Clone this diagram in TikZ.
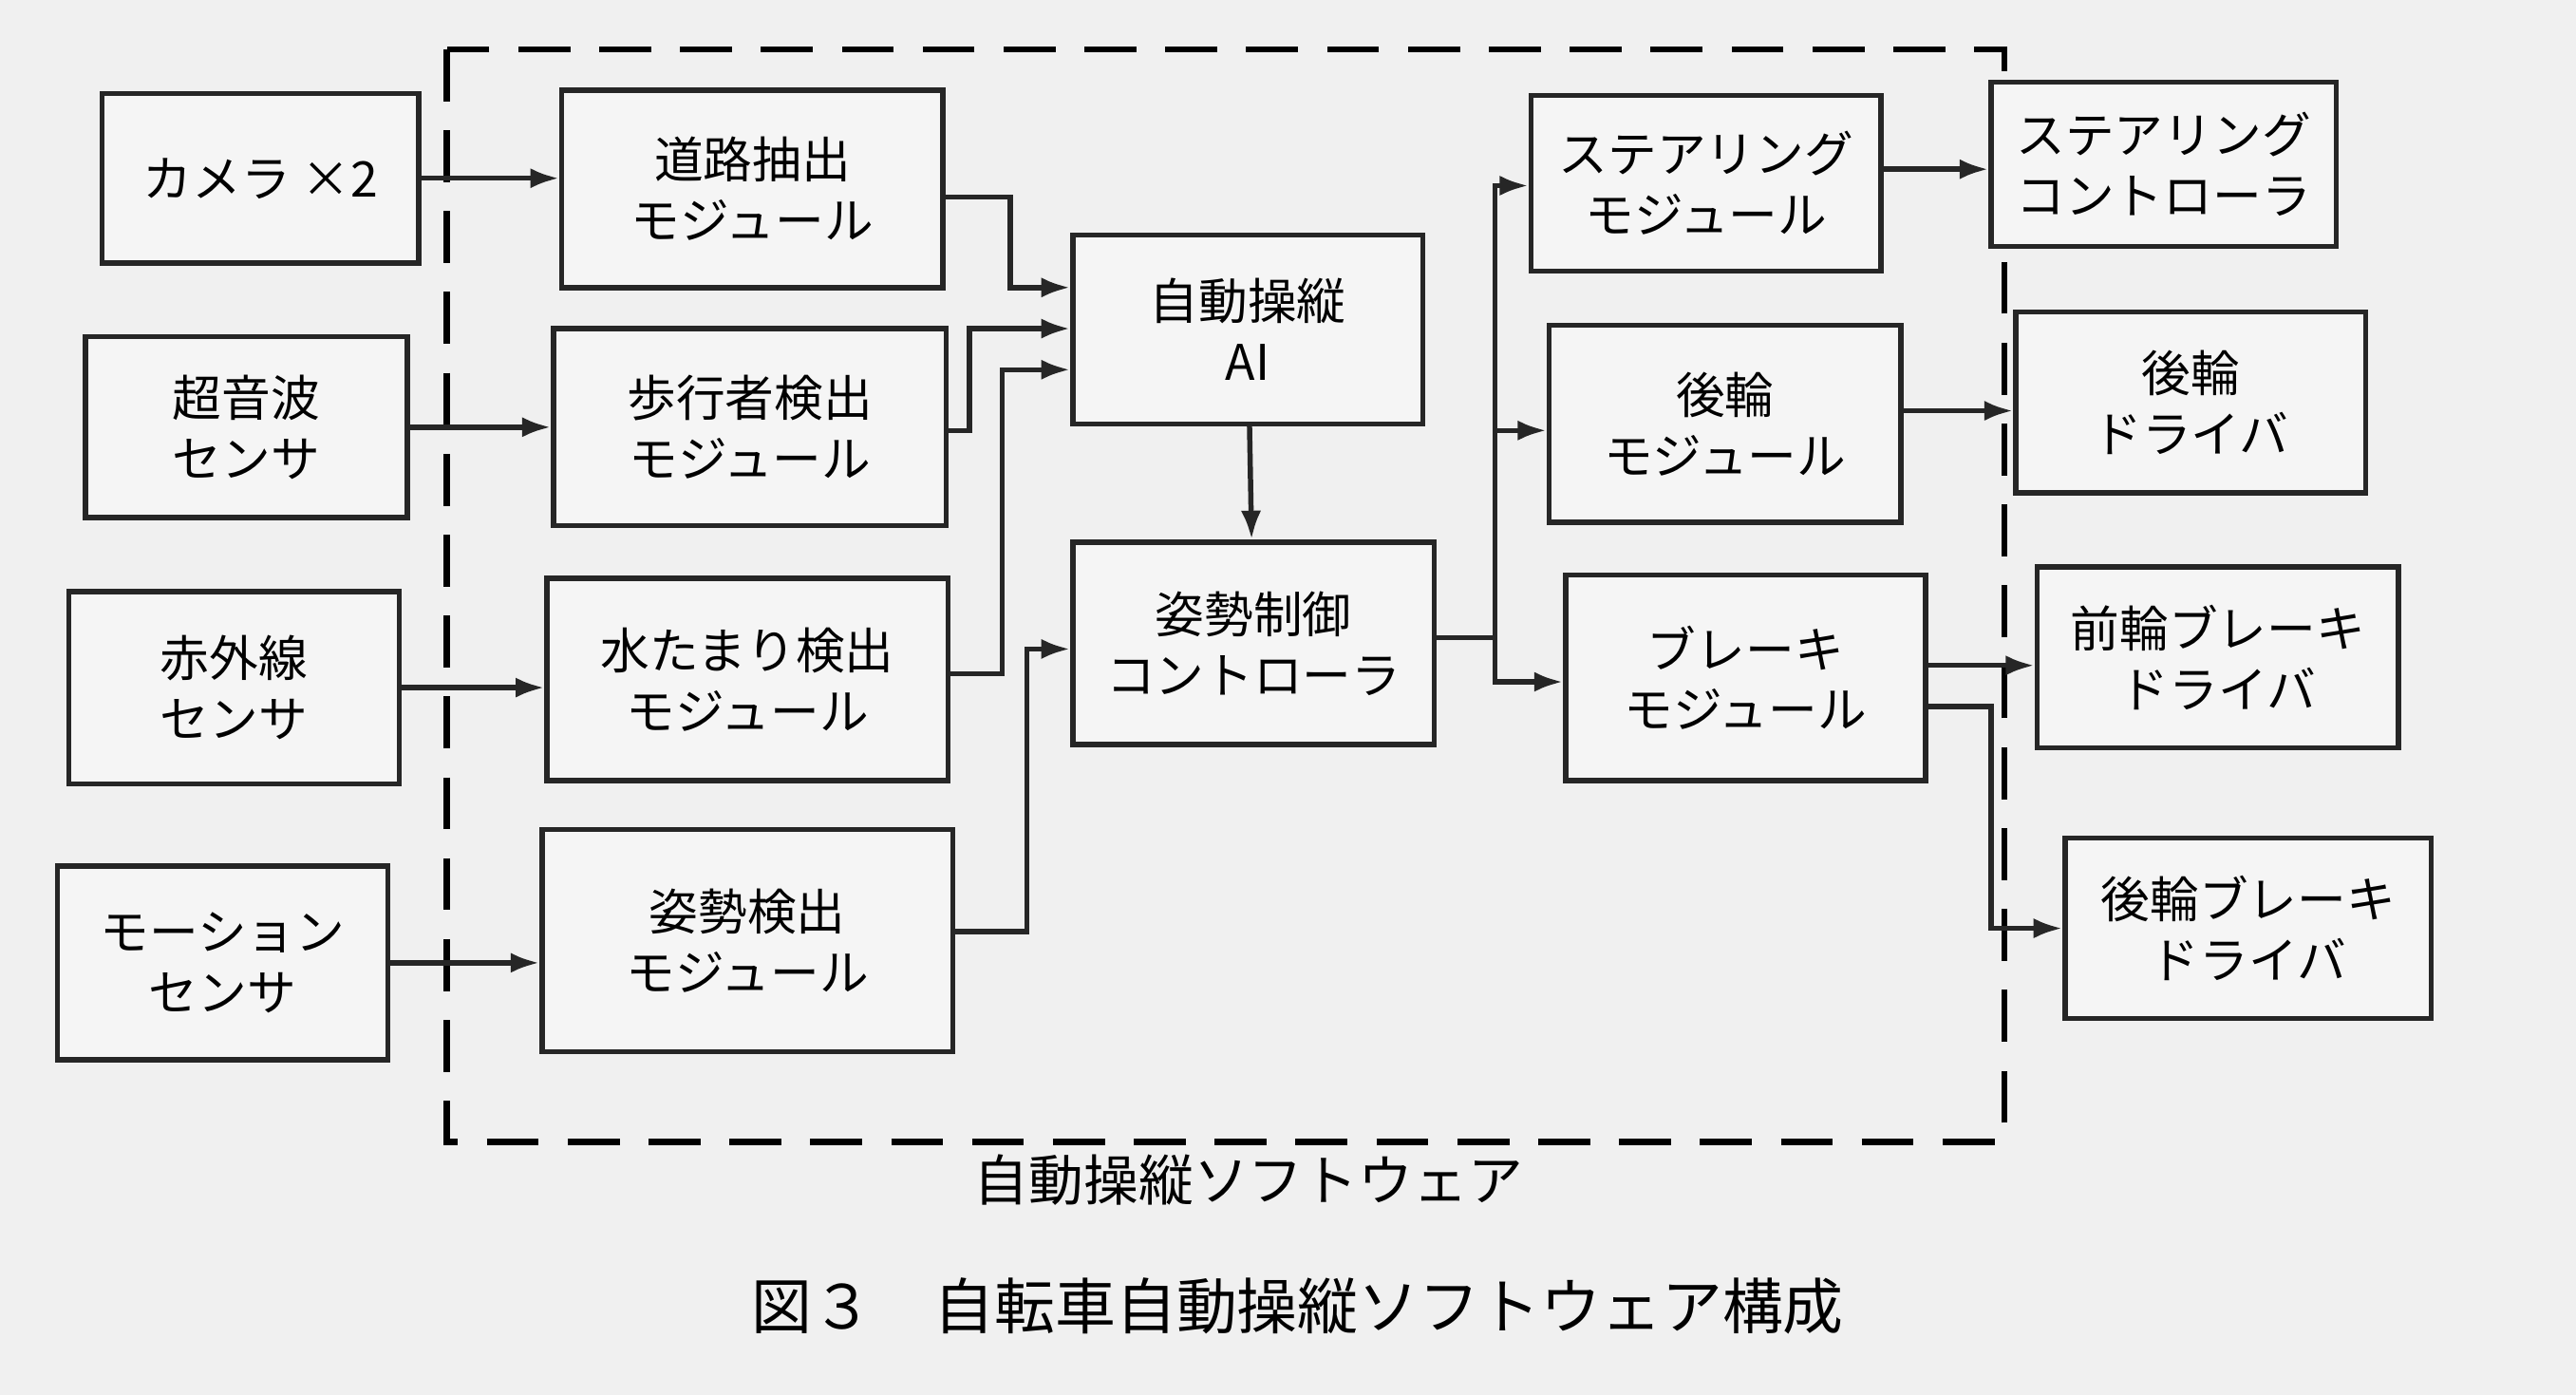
\documentclass[tikz,border=0pt]{standalone}
\usepackage{fontspec}
\setmainfont{Noto Sans CJK JP}
\usetikzlibrary{arrows.meta}
\tikzset{
 box/.style={draw=black!85,line width=0.9pt,fill=white!92!gray,align=center,inner sep=0pt,font=\fontsize{8.5}{10.5}\selectfont},
 arr/.style={-{Latex[length=5pt,width=3.5pt]},line width=0.9pt,black!85},
 ln/.style={line width=0.9pt,black!85}
}
\newcommand{\bx}[6]{\node[box,minimum width={(#4-#2)*0.01cm},minimum height={(#5-#3)*0.01cm}] (#1) at ({(#2+#4)/2},{(#3+#5)/2}) {#6};}
\begin{document}
\begin{tikzpicture}[x=0.01cm,y=-0.01cm]
\fill[white!88!gray] (0,0) rectangle (1568,849);
\useasboundingbox (0,0) rectangle (1568,849);
\draw[line width=1.1pt,dash pattern=on 9pt off 5pt] (272,30) rectangle (1220,695);
\bx{cam}{62}{57}{255}{160}{カメラ ×2}
\bx{us}{52}{205}{248}{315}{超音波\\センサ}
\bx{ir}{42}{360}{243}{477}{赤外線\\センサ}
\bx{mo}{35}{527}{236}{645}{モーション\\センサ}
\bx{road}{342}{55}{574}{175}{道路抽出\\モジュール}
\bx{ped}{337}{200}{576}{320}{歩行者検出\\モジュール}
\bx{pud}{333}{352}{577}{475}{水たまり検出\\モジュール}
\bx{pos}{330}{505}{580}{640}{姿勢検出\\モジュール}
\bx{ai}{653}{143}{866}{258}{自動操縦\\AI}
\bx{pc}{653}{330}{873}{453}{姿勢制御\\コントローラ}
\bx{stm}{932}{58}{1145}{165}{ステアリング\\モジュール}
\bx{rwm}{943}{198}{1157}{318}{後輪\\モジュール}
\bx{brm}{953}{350}{1172}{475}{ブレーキ\\モジュール}
\bx{stc}{1212}{50}{1422}{150}{ステアリング\\コントローラ}
\bx{rwd}{1227}{190}{1440}{300}{後輪\\ドライバ}
\bx{fbd}{1240}{345}{1460}{455}{前輪ブレーキ\\ドライバ}
\bx{rbd}{1257}{510}{1480}{620}{後輪ブレーキ\\ドライバ}
\node[font=\fontsize{9.5}{11}\selectfont] (sw) at (760,718) {自動操縦ソフトウェア};
\node[font=\fontsize{10.5}{12}\selectfont] (cap) at (790,795) {図３\quad 自転車自動操縦ソフトウェア構成};
\draw[arr] (cam) -- (road.west |- cam);
\draw[arr] (us) -- (ped.west |- us);
\draw[arr] (ir) -- (pud.west |- ir);
\draw[arr] (mo) -- (pos.west |- mo);
\draw[arr] (road.east |- 0,120) -| (615,175) -- (ai.west |- 0,175);
\draw[arr] (ped.east |- 0,262) -| (590,200) -- (ai.west |- 0,200);
\draw[arr] (pud.east |- 0,410) -| (610,225) -- (ai.west |- 0,225);
\draw[arr] (pos.east |- 0,567) -| (625,395) -- (pc.west |- 0,395);
\draw[arr] (ai) -- (pc);
\coordinate (j) at (910,388);
\draw[ln] (pc.east |- j) -- (j);
\draw[arr] (j) |- (stm.west |- 0,113);
\draw[arr] (910,262) -- (rwm.west |- 0,262);
\draw[arr] (j) |- (brm.west |- 0,415);
\draw[arr] (stm.east |- 0,103) -- (stc.west |- 0,103);
\draw[arr] (rwm.east |- 0,250) -- (rwd.west |- 0,250);
\draw[arr] (brm.east |- 0,405) -- (fbd.west |- 0,405);
\draw[arr] (brm.east |- 0,430) -| (1212,565) -- (rbd.west |- 0,565);
\end{tikzpicture}
\end{document}
